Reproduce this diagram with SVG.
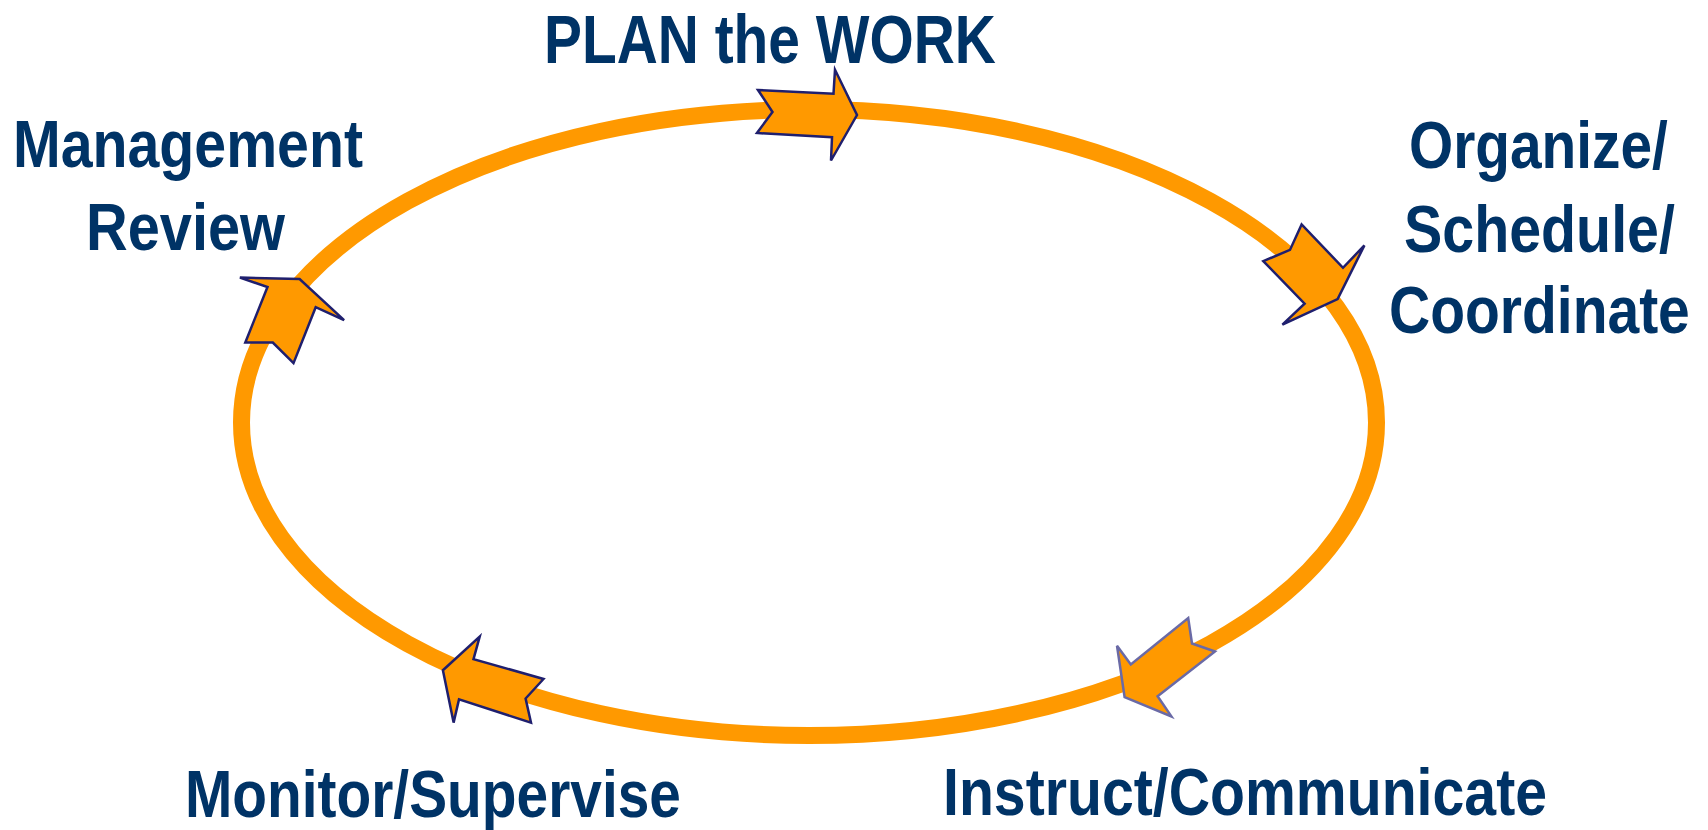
<svg xmlns="http://www.w3.org/2000/svg" width="1708" height="830" viewBox="0 0 1708 830">
  <style>
    .lbl { font-family: "Liberation Sans", Arial, sans-serif; font-weight: bold; font-size: 67px; fill: #003366; }
    .big { font-size: 69px; }
    .ring { fill: none; stroke: #FF9900; stroke-width: 17; }
    .arr { fill: #FF9900; stroke: #1F1F6E; stroke-width: 2.5; stroke-linejoin: miter; }
    .arr2 { fill: #FF9900; stroke: #6A6AA6; stroke-width: 2.5; stroke-linejoin: miter; }
  </style>
  <rect width="1708" height="830" fill="#FFFFFF"/>
  <g id="connectors">
    <ellipse class="ring" cx="809" cy="422.5" rx="567.5" ry="313"/>
    <polygon class="arr" points="758,90 833.5,93.8 835,69.7 857,115 831,160.5 832,137.2 757,133 772.5,112"/>
    <polygon class="arr" points="1301.6,224.4 1290,249.9 1263.3,261.1 1304.6,303.6 1282.4,324.6 1337.6,299.1 1364.4,245.4 1343,267.8"/>
    <polygon class="arr2" points="1188.2,618 1192,643.5 1215,651.5 1157.6,696.2 1171.4,716.4 1124.6,697.1 1117,645.7 1130.8,664.5"/>
    <polygon class="arr" points="479.7,636.7 473.5,659.1 543.5,679 525.6,698.5 531,722.6 459,699.4 453.6,722.6 442.9,670.3"/>
    <polygon class="arr" points="239.9,277.6 267.5,287 245.3,342.5 272.8,342.5 293.5,363.1 315.7,307.2 344.1,320.1 299.6,279"/>
  </g>
  <g id="plan">
    <text class="lbl big" transform="translate(544,62.7) scale(0.8246,1)">PLAN the WORK</text>
  </g>
  <g id="organize">
    <text class="lbl" transform="translate(1409,168.3) scale(0.848,1)">Organize/</text>
    <text class="lbl" transform="translate(1404,251.7) scale(0.856,1)">Schedule/</text>
    <text class="lbl" transform="translate(1389,333.3) scale(0.851,1)">Coordinate</text>
  </g>
  <g id="instruct">
    <text class="lbl" transform="translate(943,815) scale(0.854,1)">Instruct/Communicate</text>
  </g>
  <g id="monitor">
    <text class="lbl" transform="translate(185,816.5) scale(0.8486,1)">Monitor/Supervise</text>
  </g>
  <g id="management">
    <text class="lbl" transform="translate(13,166.7) scale(0.8547,1)">Management</text>
    <text class="lbl" transform="translate(86,250) scale(0.862,1)">Review</text>
  </g>
</svg>
